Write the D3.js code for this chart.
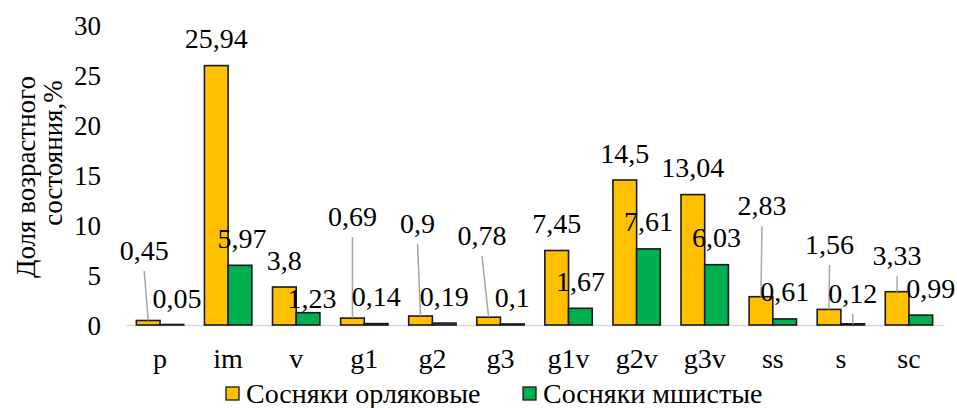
<!DOCTYPE html>
<html>
<head>
<meta charset="utf-8">
<script src="https://cdn.jsdelivr.net/npm/d3@7"></script>
<style>
  html, body { margin: 0; padding: 0; background: #fff; }
  svg { display: block; }
</style>
</head>
<body>
<svg id="chart" width="957" height="408"></svg>
<script>
// Age-state shares of the two pine forest types
const categories = ["p", "im", "v", "g1", "g2", "g3", "g1v", "g2v", "g3v", "ss", "s", "sc"];
const seriesNames = ["Сосняки орляковые", "Сосняки мшистые"];
const bracken = [0.45, 25.94, 3.8, 0.69, 0.9, 0.78, 7.45, 14.5, 13.04, 2.83, 1.56, 3.33];
const moss = [0.05, 5.97, 1.23, 0.14, 0.19, 0.1, 1.67, 7.61, 6.03, 0.61, 0.12, 0.99];
const yTicks = [0, 5, 10, 15, 20, 25, 30];
const yTitleLines = ["Доля возрастного", "состояния,%"];

const colors = ["#FFC000", "#00B050"];
const FONT = "Liberation Serif";
const FS = 27;      // axis ticks and title
const FS_LBL = 28;  // data labels, categories, legend

// Hand-placed data labels: extra shift [dx, dy] in px from the default spot above the bar
const labelShift = [
  { p: [-4, -43], g1: [0, -74.5], g2: [-3, -65.5], g3: [-6.6, -54.5], ss: [1, -64], s: [0.5, -38], sc: [0, -9] },
  { p: [5, 1], im: [2, 0], v: [4, 13], s: [0, -3.3], sc: [10, 0] }
];

const svg = d3.select("#chart");
const margin = { left: 126, right: 14, top: 25, bottom: 83 };
const W = 957, H = 408;

const x0 = d3.scaleBand().domain(categories)
  .range([margin.left, W - margin.right])
  .paddingInner(0.304).paddingOuter(0.152);
const x1 = d3.scaleBand().domain([0, 1]).range([0, x0.bandwidth()]);
const y = d3.scaleLinear().domain([0, 30]).range([H - margin.bottom, margin.top]);

// Y axis tick labels (no axis line, no gridlines)
const yAxis = d3.axisLeft(y).tickValues(yTicks).tickSize(0).tickPadding(0).tickFormat(d3.format("d"));
const gy = svg.append("g").attr("transform", `translate(${101},0)`).call(yAxis);
gy.select(".domain").remove();
gy.selectAll("text").attr("font-family", FONT).attr("font-size", FS).attr("fill", "#000").attr("dy", "0.34em");

// Y axis title, two lines rotated
const titleG = svg.append("g");
titleG.append("text").attr("transform", "translate(35,177) rotate(-90)")
  .attr("font-family", FONT).attr("text-anchor", "middle").attr("font-size", FS).attr("fill", "#000")
  .text(yTitleLines[0]);
titleG.append("text").attr("transform", "translate(62,153) rotate(-90)")
  .attr("font-family", FONT).attr("text-anchor", "middle").attr("font-size", FS).attr("fill", "#000")
  .text(yTitleLines[1]);

// Category axis line and labels
const xAxis = d3.axisBottom(x0).tickSize(0).tickPadding(0);
const gx = svg.append("g").attr("transform", `translate(0,${y(0)})`).call(xAxis);
gx.select(".domain").attr("stroke", "#D9D9D9").attr("stroke-width", 1.5);
gx.selectAll("text").attr("font-family", FONT).attr("font-size", FS_LBL).attr("fill", "#000")
  .attr("dy", 0).attr("y", 43);

// Bars
const series = [bracken, moss];
const barG = svg.append("g");
series.forEach((vals, si) => {
  barG.selectAll(null).data(vals).enter().append("rect")
    .attr("x", (d, i) => x0(categories[i]) + x1(si))
    .attr("y", d => y(d))
    .attr("width", x1.bandwidth())
    .attr("height", d => y(0) - y(d))
    .attr("fill", colors[si])
    .attr("stroke", "#1a1a1a")
    .attr("stroke-width", 1.6);
});

// Data labels with leader lines when moved away from the bar
const fmt = d => String(d).replace(".", ",");
const labelG = svg.append("g");
series.forEach((vals, si) => {
  vals.forEach((v, i) => {
    const cat = categories[i];
    const cx = x0(cat) + x1(si) + x1.bandwidth() / 2;
    const top = y(v);
    const sh = labelShift[si][cat] || [0, 0];
    const lx = cx + sh[0];
    const base = top - 17.5 + sh[1];
    if (top - base > 20) {
      labelG.append("line")
        .attr("x1", lx).attr("y1", base + 11)
        .attr("x2", cx).attr("y2", top)
        .attr("stroke", "#A6A6A6").attr("stroke-width", 1.5);
    }
    labelG.append("text").attr("x", lx).attr("y", base)
      .attr("font-family", FONT).attr("text-anchor", "middle").attr("font-size", FS_LBL).attr("fill", "#000")
      .text(fmt(v));
  });
});

// Legend
const legend = svg.append("g");
const legendPos = [226, 523];
seriesNames.forEach((name, si) => {
  legend.append("rect").attr("x", legendPos[si]).attr("y", 387)
    .attr("width", 13).attr("height", 13)
    .attr("fill", colors[si]).attr("stroke", "#1a1a1a").attr("stroke-width", 1.3);
  legend.append("text").attr("x", legendPos[si] + 20).attr("y", 403)
    .attr("font-family", FONT).attr("font-size", FS_LBL).attr("fill", "#000").text(name);
});
</script>
</body>
</html>
